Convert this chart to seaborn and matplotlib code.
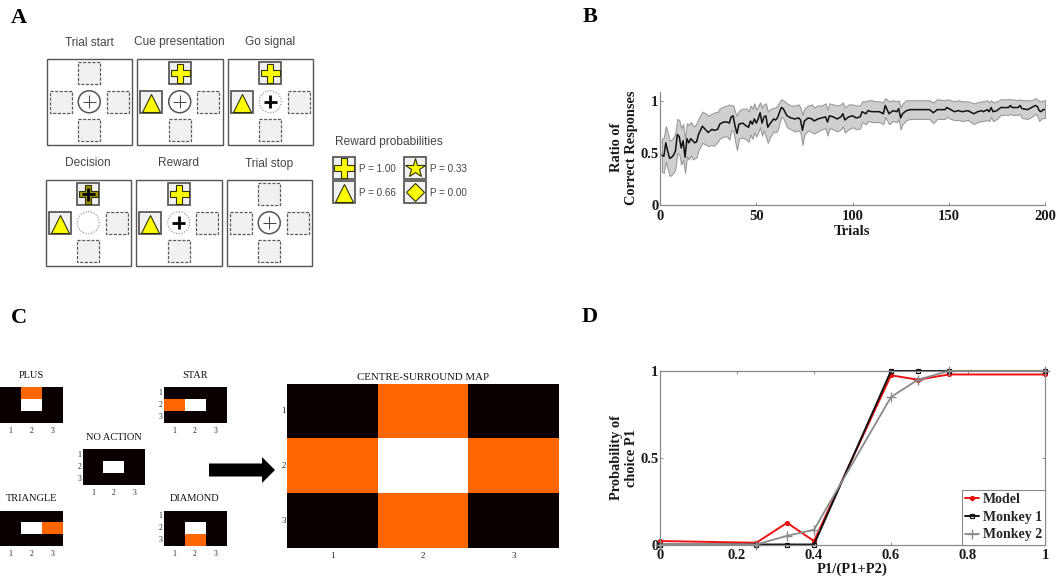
import numpy as np
import matplotlib
matplotlib.use("Agg")
import matplotlib.pyplot as plt
from matplotlib.colors import ListedColormap
from matplotlib.patches import Rectangle, Circle, FancyArrow
import seaborn as sns

# ==========================================
# 1. DATA
# ==========================================
trials = [1, 2, 3, 4, 5, 6, 7, 8, 9, 10,
          11, 12, 13, 14, 15, 16, 17, 18, 19, 20,
          22, 24, 25, 27, 28, 30, 31, 33, 35, 36,
          37, 38, 39, 40, 41, 43, 45, 46, 47, 48,
          49, 50, 51, 52, 53, 54, 55, 56, 57, 59,
          60, 61, 63, 64, 66, 68, 70, 72, 73, 74,
          75, 77, 79, 80, 82, 84, 86, 87, 88, 90,
          92, 94, 95, 96, 98, 100, 102, 104, 105, 107,
          108, 110, 112, 114, 116, 117, 119, 121, 123, 124,
          125, 126, 128, 130, 135, 140, 142, 144, 148, 149,
          151, 153, 155, 157, 160, 163, 165, 167, 168, 170,
          171, 172, 173, 175, 177, 181, 182, 183, 186, 187,
          188, 191, 193, 195, 196, 197, 198, 199, 200]
ratio_mean = [.48, .47, .60, .52, .45, .46, .48, .52, .68, .66,
              .55, .62, .46, .64, .60, .64, .62, .60, .61, .68,
              .76, .72, .70, .73, .72, .73, .78, .80, .80, .79,
              .85, .86, .76, .69, .78, .79, .76, .75, .81, .78,
              .83, .79, .83, .89, .79, .85, .86, .75, .78, .83,
              .82, .84, .94, .93, .86, .84, .83, .84, .82, .72,
              .81, .84, .83, .81, .83, .84, .85, .80, .86, .85,
              .83, .85, .88, .82, .85, .86, .84, .85, .90, .88,
              .91, .90, .90, .90, .88, .96, .88, .91, .90, .93,
              .84, .88, .91, .92, .92, .92, .89, .92, .92, .94,
              .92, .90, .91, .90, .91, .88, .90, .91, .90, .92,
              .90, .94, .90, .91, .94, .94, .96, .94, .94, .96,
              .93, .92, .94, .96, .95, .91, .90, .92, .92]
ratio_upper = [.64, .65, .76, .70, .62, .63, .65, .70, .83, .82,
               .74, .78, .64, .79, .77, .80, .77, .76, .79, .83,
               .90, .88, .86, .88, .89, .90, .93, .95, .96, .97,
               .96, .96, .90, .86, .91, .93, .93, .90, .96, .93,
               .98, .92, .95, .99, .94, .97, .98, .90, .92, .94,
               .94, .96, 1.02, 1.01, .98, .96, .96, .97, .94, .87,
               .93, .96, .97, .94, .96, .96, .98, .92, .98, .97,
               .96, .97, .99, .94, .97, .97, .96, .96, 1.00, 1.00,
               1.01, 1.01, 1.00, 1.00, .99, 1.03, 1.00, 1.01, 1.00, 1.01,
               .94, .98, 1.01, 1.01, 1.01, 1.01, .99, 1.02, 1.01, 1.02,
               1.01, 1.00, 1.01, 1.00, 1.00, .98, .99, 1.00, 1.00, 1.01,
               .99, 1.01, .99, 1.00, 1.02, 1.02, 1.02, 1.02, 1.01, 1.02,
               1.01, 1.01, 1.01, 1.03, 1.02, 1.00, 1.00, 1.01, 1.01]
ratio_lower = [.32, .31, .42, .35, .28, .29, .31, .35, .50, .49,
               .39, .44, .31, .47, .44, .48, .44, .45, .46, .53,
               .60, .58, .57, .58, .57, .61, .64, .66, .66, .63,
               .72, .72, .62, .53, .64, .65, .63, .61, .68, .64,
               .70, .66, .70, .75, .67, .72, .66, .60, .65, .71,
               .70, .72, .85, .84, .75, .73, .71, .72, .70, .58,
               .68, .72, .70, .69, .71, .73, .74, .67, .74, .73,
               .71, .73, .76, .70, .73, .75, .73, .74, .80, .78,
               .81, .80, .80, .80, .78, .85, .78, .81, .80, .83,
               .73, .78, .82, .83, .83, .83, .79, .83, .83, .85,
               .83, .82, .82, .81, .82, .78, .80, .81, .81, .82,
               .81, .85, .81, .83, .87, .87, .88, .87, .87, .88,
               .84, .83, .85, .88, .86, .81, .83, .84, .84]

p_ratio = [0, 0.25, 0.33, 0.4, 0.6, 0.67, 0.75, 1]
model_choice = [0.02, 0.01, 0.125, 0.02, 0.975, 0.95, 0.98, 0.98]
monkey1_choice = [0, 0, 0, 0, 1, 1, 1, 1]
monkey2_choice = [0, 0, 0.05, 0.085, 0.85, 0.95, 1, 1]

# 0 = black, 1 = orange, 2 = white
map_plus = [[0, 1, 0], [0, 2, 0], [0, 0, 0]]
map_star = [[0, 0, 0], [1, 2, 0], [0, 0, 0]]
map_none = [[0, 0, 0], [0, 2, 0], [0, 0, 0]]
map_triangle = [[0, 0, 0], [0, 2, 1], [0, 0, 0]]
map_diamond = [[0, 0, 0], [0, 2, 0], [0, 1, 0]]
map_centre = [[0, 1, 0], [1, 2, 1], [0, 1, 0]]
map_ticks = ["1", "2", "3"]

reward_labels = ["P = 1.00", "P = 0.66", "P = 0.33", "P = 0.00"]

# ==========================================
# 2. FIGURE SETUP
# ==========================================
W, H = 1057, 576
SERIF = "Liberation Serif"
SANS = "Liberation Sans"
sns.set_theme(style="white")
plt.rcParams["font.family"] = [SERIF, "DejaVu Sans"]

fig = plt.figure(figsize=(W / 100, H / 100), dpi=100, facecolor="white")


def ax_px(x0, y0, x1, y1):
    return fig.add_axes([x0 / W, 1 - y1 / H, (x1 - x0) / W, (y1 - y0) / H])


canvas = fig.add_axes([0, 0, 1, 1])
canvas.set_xlim(0, W)
canvas.set_ylim(H, 0)
canvas.axis("off")

for letter, lx, ly in [("A", 19, 18), ("B", 590, 17), ("C", 19, 318), ("D", 590, 317)]:
    canvas.text(lx, ly, letter, fontsize=16, fontweight="bold", family=SERIF,
                ha="center", va="center", color="black")

# ==========================================
# 3. PANEL A (task schematic)
# ==========================================
YELLOW = "#ffff00"
EDGE = "#5c5c5c"
TEXT_GREY = "#444444"


def slot(cx, cy, filled=False, half=11):
    canvas.add_patch(Rectangle((cx - half, cy - half), 2 * half, 2 * half,
                               facecolor="#f1f1f1", edgecolor=EDGE,
                               lw=1.3 if filled else 0.9,
                               ls="-" if filled else (0, (2.5, 1.2))))


def shape(cx, cy, marker, size, dark=False):
    canvas.plot([cx], [cy], marker=marker, ms=size * 0.72, mfc="#a09000" if dark else YELLOW,
                mec="#333300", mew=0.8, ls="none")


def centre(cx, cy, kind):
    solid = kind == "fix"
    canvas.add_patch(Circle((cx, cy), 11, facecolor="white", edgecolor="#555555" if solid else "#888888",
                            lw=1.1 if solid else 0.8, ls="-" if solid else (0, (1, 1.5))))
    if kind != "empty":
        lw = 0.7 if solid else 2.0
        col = "#444444" if solid else "black"
        arm = 6.5
        canvas.plot([cx - arm, cx + arm], [cy, cy], color=col, lw=lw, solid_capstyle="butt")
        canvas.plot([cx, cx], [cy - arm, cy + arm], color=col, lw=lw, solid_capstyle="butt")


def trial_box(x0, y0, title, cue=False, kind="fix", decision=False):
    x1, y1 = x0 + 85.5, y0 + 85.5
    mx, my = (x0 + x1) / 2, (y0 + y1) / 2
    canvas.add_patch(Rectangle((x0, y0), 85.5, 85.5, facecolor="white", edgecolor="#555555", lw=1.0))
    canvas.text(mx, y0 - 13.5, title, family=SANS, fontsize=8.6, color=TEXT_GREY, ha="center", va="baseline")
    d = 28.5
    slot(mx, my - d, filled=cue)
    slot(mx - d, my, filled=cue)
    slot(mx + d, my)
    slot(mx, my + d)
    centre(mx, my, kind)
    if cue:
        shape(mx, my - d, "P", 19, dark=decision)
        shape(mx - d, my + 1, "^", 18)
    if decision:
        canvas.plot([mx - 6.5, mx + 6.5], [my - d, my - d], color="black", lw=2, solid_capstyle="butt")
        canvas.plot([mx, mx], [my - d - 6.5, my - d + 6.5], color="black", lw=2, solid_capstyle="butt")


trial_box(46.5, 59, "Trial start")
trial_box(137, 59, "Cue presentation", cue=True)
trial_box(227.5, 59, "Go signal", cue=True, kind="go")
trial_box(45.5, 180, "Decision", cue=True, kind="empty", decision=True)
trial_box(136, 180, "Reward", cue=True, kind="go")
trial_box(226.5, 180, "Trial stop")

canvas.text(335, 144.5, "Reward probabilities", family=SANS, fontsize=8.6, color=TEXT_GREY, ha="left", va="baseline")
for (sx, sy), marker, size, label in zip([(344, 168), (344, 192), (415, 168), (415, 192)],
                                         ["P", "^", "*", "D"], [20, 18, 20, 13], reward_labels):
    slot(sx, sy, filled=True)
    shape(sx, sy + 1 if marker == "^" else sy, marker, size)
    canvas.text(sx + 15, sy + 1, label, family=SANS, fontsize=7.1,
                color=TEXT_GREY, ha="left", va="center")

# ==========================================
# 4. PANEL B
# ==========================================
ax_b = ax_px(660, 92, 1045, 205)
ax_b.fill_between(trials, ratio_lower, ratio_upper, facecolor="#cfcfcf", edgecolor="#9a9a9a", lw=0.8)
sns.lineplot(x=trials, y=ratio_mean, ax=ax_b, color="#111111", lw=1.1, errorbar=None)
ax_b.set_xlim(0, 200)
ax_b.set_ylim(0, 1.09)
ax_b.set_xticks([0, 50, 100, 150, 200])
ax_b.set_yticks([0, 0.5, 1])
ax_b.set_yticklabels(["0", "0.5", "1"])
sns.despine(ax=ax_b)


def style_line_axes(ax):
    for spine in ax.spines.values():
        spine.set_color("#8a8a8a")
        spine.set_linewidth(0.9)
    ax.tick_params(axis="both", direction="in", length=2.5, width=0.7, color="#8a8a8a", bottom=True, left=True)
    ax.tick_params(axis="x", pad=3.5)
    ax.tick_params(axis="y", pad=1)
    for lab in ax.get_xticklabels() + ax.get_yticklabels():
        lab.set_fontsize(10.5)
        lab.set_fontweight("bold")
        lab.set_family(SERIF)
        lab.set_color("#1a1a1a")


style_line_axes(ax_b)
ax_b.set_xlabel("Trials", fontsize=10.5, fontweight="bold", labelpad=1.5, color="#1a1a1a")
ax_b.set_ylabel("Ratio of\nCorrect Responses", fontsize=10.4, fontweight="bold", labelpad=2,
                linespacing=1.2, color="#1a1a1a", y=0.51)

# ==========================================
# 5. PANEL C (heatmaps)
# ==========================================
map_cmap = ListedColormap(["#0a0000", "#ff6600", "#ffffff"])


def draw_map(box, values, title, show_y=True, fs=5.5, title_fs=7.5, title_pad=6.5):
    ax = ax_px(*box)
    sns.heatmap(np.array(values), ax=ax, cmap=map_cmap, vmin=0, vmax=2, cbar=False,
                xticklabels=map_ticks, yticklabels=map_ticks if show_y else False, square=False)
    ax.tick_params(axis="both", length=0, pad=3, labelsize=fs, colors="#222222")
    ax.tick_params(axis="y", labelrotation=0, pad=1)
    ax.set_title(title, fontsize=title_fs, family=SERIF, pad=title_pad, color="#111111")
    return ax


draw_map((0, 387, 62.5, 422.5), map_plus, "PLUS", show_y=False)
draw_map((163.5, 387, 226.5, 422.5), map_star, "STAR")
draw_map((82.5, 449, 144.5, 485), map_none, "NO ACTION")
draw_map((0, 510.5, 62.5, 546), map_triangle, "TRIANGLE", show_y=False)
draw_map((163.5, 510.5, 226.5, 546), map_diamond, "DIAMOND")
draw_map((287, 383.5, 559, 548), map_centre, "CENTRE-SURROUND MAP", fs=6.5, title_fs=7.8, title_pad=2.5)

canvas.add_patch(FancyArrow(209, 470, 66, 0, width=13, head_width=26, head_length=13,
                            length_includes_head=True, facecolor="black", edgecolor="black", lw=0))

# ==========================================
# 6. PANEL D
# ==========================================
ax_d = ax_px(660, 371, 1045, 544.5)
sns.lineplot(x=p_ratio, y=model_choice, ax=ax_d, color="#ee1111", lw=1.4, marker="o", ms=3,
             markeredgecolor="#ee1111", errorbar=None, label="Model", clip_on=False)
sns.lineplot(x=p_ratio, y=monkey1_choice, ax=ax_d, color="#111111", lw=1.4, marker="s", ms=3.2,
             markerfacecolor="none", markeredgecolor="#111111", markeredgewidth=0.9, errorbar=None,
             label="Monkey 1", clip_on=False)
sns.lineplot(x=p_ratio, y=monkey2_choice, ax=ax_d, color="#8a8a8a", lw=1.3, marker="+", ms=7,
             markeredgecolor="#8a8a8a", markeredgewidth=1.0, errorbar=None, label="Monkey 2", clip_on=False)
ax_d.set_xlim(0, 1)
ax_d.set_ylim(0, 1)
ax_d.set_xticks([0, 0.2, 0.4, 0.6, 0.8, 1])
ax_d.set_xticklabels(["0", "0.2", "0.4", "0.6", "0.8", "1"])
ax_d.set_yticks([0, 0.5, 1])
ax_d.set_yticklabels(["0", "0.5", "1"])
style_line_axes(ax_d)
ax_d.tick_params(top=True, right=True)
ax_d.set_xlabel("P1/(P1+P2)", fontsize=10.5, fontweight="bold", labelpad=0, color="#1a1a1a")
ax_d.set_ylabel("Probability of\nchoice P1", fontsize=10.4, fontweight="bold", labelpad=2,
                linespacing=1.2, color="#1a1a1a", y=0.5)
leg = ax_d.legend(loc="lower right", frameon=True, fancybox=False, framealpha=1,
                  edgecolor="#8a8a8a", borderpad=0.22, labelspacing=0.33, handlelength=1.0,
                  handletextpad=0.3, borderaxespad=0,
                  prop={"family": SERIF, "weight": "bold", "size": 10})
leg.get_frame().set_linewidth(0.8)

fig.savefig("out.png", dpi=100, facecolor="white")
